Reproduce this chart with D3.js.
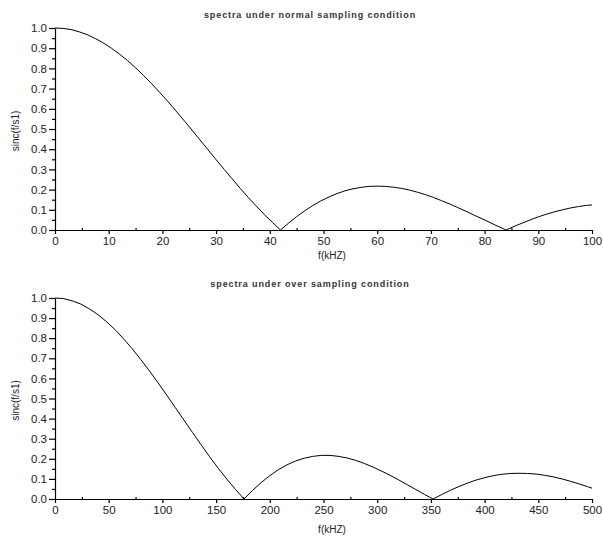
<!DOCTYPE html>
<html><head><meta charset="utf-8">
<script src="https://cdn.jsdelivr.net/npm/d3@7"></script>
<style>
body{margin:0;background:#fff;}
text{font-family:"Liberation Sans",Arial,sans-serif;}
</style></head>
<body><svg id="c" width="603" height="537"></svg>
<script>
// Top panel: normal sampling (f in kHz)
const fTop = [0,1.5,3,4.5,6,7.5,9,10.5,12,13.5,15,16.5,18,19.5,21,22.5,24,25.5,27,28.5,30,31.5,33,34.5,36,37.5,39,40.5,42,43.5,45,46.5,48,49.5,51,52.5,54,55.5,57,58.5,60,61.5,63,64.5,66,67.5,69,70.5,72,73.5,75,76.5,78,79.5,81,82.5,84,85.5,87,88.5,90,91.5,93,94.5,96,97.5,99,100];
const yTop = [1.000,0.998,0.992,0.981,0.967,0.948,0.926,0.900,0.871,0.839,0.803,0.765,0.724,0.681,0.637,0.590,0.543,0.495,0.446,0.397,0.348,0.300,0.253,0.206,0.161,0.118,0.076,0.037,0.000,0.034,0.066,0.095,0.121,0.144,0.163,0.180,0.194,0.204,0.211,0.216,0.217,0.216,0.212,0.206,0.198,0.187,0.175,0.161,0.145,0.129,0.111,0.093,0.074,0.056,0.037,0.018,0.000,0.018,0.034,0.050,0.065,0.078,0.090,0.100,0.109,0.116,0.122,0.124];
// Bottom panel: over sampling (f in kHz)
const fBot = [0,8,16,24,32,40,48,56,64,72,80,88,96,104,112,120,128,136,144,152,160,168,176,184,192,200,208,216,224,232,240,248,256,264,272,280,288,296,304,312,320,328,336,344,352,360,368,376,384,392,400,408,416,424,432,440,448,456,464,472,480,488,496,500];
const yBot = [1.000,0.997,0.986,0.970,0.946,0.917,0.882,0.842,0.796,0.747,0.693,0.637,0.578,0.517,0.455,0.393,0.331,0.270,0.210,0.153,0.099,0.048,0.000,0.043,0.082,0.116,0.146,0.170,0.189,0.203,0.212,0.217,0.217,0.212,0.204,0.192,0.177,0.159,0.139,0.118,0.095,0.071,0.047,0.023,0.000,0.022,0.043,0.062,0.079,0.094,0.106,0.116,0.123,0.127,0.128,0.127,0.124,0.118,0.110,0.100,0.088,0.075,0.061,0.054];
const titles = ["spectra under normal sampling condition","spectra under over sampling condition"];
const yLabel = "sinc(f/s1)";
const xLabel = "f(kHZ)";
const xTicksTop = [0,10,20,30,40,50,60,70,80,90,100];
const xTicksBot = [0,50,100,150,200,250,300,350,400,450,500];
const yTicks = [0,0.1,0.2,0.3,0.4,0.5,0.6,0.7,0.8,0.9,1.0];

const svg = d3.select("#c");
const panels = [
  {f:fTop,y:yTop,xmax:100,xt:xTicksTop,step:10,top:28,bot:230,title:titles[0],ty:18,xly:259},
  {f:fBot,y:yBot,xmax:500,xt:xTicksBot,step:50,top:298,bot:499,title:titles[1],ty:287,xly:533}
];
panels.forEach(p=>{
  const x = d3.scaleLinear().domain([0,p.xmax]).range([55,592]);
  const y = d3.scaleLinear().domain([0,1]).range([p.bot,p.top]);
  const g = svg.append("g");
  // y axis
  const ya = g.append("g").attr("transform","translate(55,0)")
    .call(d3.axisLeft(y).tickValues(yTicks).tickFormat(d3.format(".1f")).tickSize(6).tickSizeOuter(0));
  ya.selectAll("text").attr("font-size",11.5).attr("fill","#222").attr("x",-8);
  const yMinor = yTicks.slice(0,-1).map(v=>v+0.05);
  g.append("g").attr("transform","translate(55,0)")
    .call(d3.axisLeft(y).tickValues(yMinor).tickFormat("").tickSize(3).tickSizeOuter(0))
    .select(".domain").remove();
  // x axis
  const xa = g.append("g").attr("transform",`translate(0,${p.bot})`)
    .call(d3.axisBottom(x).tickValues(p.xt).tickSize(4).tickSizeOuter(0).tickFormat(d3.format("d")));
  xa.selectAll("text").attr("font-size",11.5).attr("fill","#222").attr("y",7);
  const xMinor = p.xt.slice(0,-1).map(v=>v+p.step/2);
  g.append("g").attr("transform",`translate(0,${p.bot})`)
    .call(d3.axisTop(x).tickValues(xMinor).tickFormat("").tickSize(2).tickSizeOuter(0))
    .select(".domain").remove();
  g.selectAll(".domain, .tick line").attr("stroke","#000").attr("stroke-width",1.2);
  // line
  const data = p.f.map((v,i)=>[v,p.y[i]]);
  g.append("path").datum(data).attr("fill","none").attr("stroke","#000").attr("stroke-width",1)
    .attr("d",d3.line().x(d=>x(d[0])).y(d=>y(d[1])));
  // title
  g.append("text").attr("x",310).attr("y",p.ty).attr("text-anchor","middle")
    .attr("font-size",9).attr("font-weight","bold").attr("letter-spacing",0.9).attr("fill","#333").text(p.title);
  // labels
  g.append("text").attr("x",332).attr("y",p.xly).attr("text-anchor","middle")
    .attr("font-size",10).attr("fill","#222").text(xLabel);
  g.append("text").attr("transform",`translate(19,${(p.top+p.bot)/2+2}) rotate(-90)`).attr("text-anchor","middle")
    .attr("font-size",10).attr("fill","#222").text(yLabel);
});
</script></body></html>
